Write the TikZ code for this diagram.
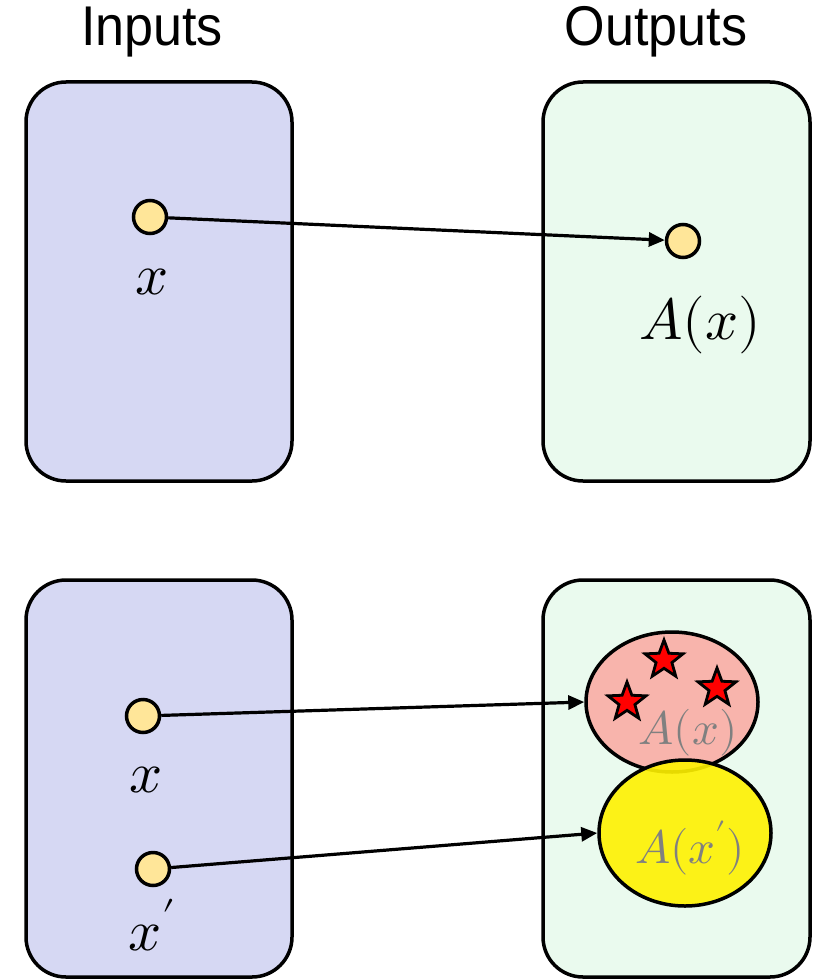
\documentclass[tikz,border=0pt]{standalone}
\usepackage{unicode-math}
\setmainfont{Liberation Sans}
\setmathfont{Latin Modern Math}
\usetikzlibrary{shapes.geometric,arrows.meta}
\definecolor{inbox}{HTML}{D6D8F3}
\definecolor{outbox}{HTML}{EAFAEE}
\definecolor{dotfill}{HTML}{FFE699}
\definecolor{pinkfill}{HTML}{F8B4AC}
\definecolor{labgray}{HTML}{808080}
\tikzset{
  panel/.style={draw=black, line width=3.5pt, rounded corners=40pt},
  inpanel/.style={panel, fill=inbox},
  outpanel/.style={panel, fill=outbox},
  dot/.style={circle, draw=black, line width=3.5pt, fill=dotfill, minimum size=33pt, inner sep=0pt},
  title/.style={font=\fontsize{56}{60}\selectfont, xscale=0.93},
  mlabel/.style={font=\fontsize{58}{60}\selectfont},
  glabel/.style={font=\fontsize{47}{50}\selectfont, text=labgray},
  conn/.style={line width=3.2pt, -{Triangle[length=16pt,width=14pt]}, shorten >=0pt},
  blob/.style={ellipse, draw=black, line width=3.5pt, inner sep=0pt},
  redstar/.style={star, star points=5, star point ratio=2.4, draw=black, line width=2.8pt, fill=red, minimum size=40pt, inner sep=0pt}
}
\begin{document}
\begin{tikzpicture}[x=1pt,y=-1pt]
\useasboundingbox (0,0) rectangle (818,979);
% titles
\node[title] (tin) at (152,32) {Inputs};
\node[title] (tout) at (656,32) {Outputs};
% top panels
\draw[inpanel] (26,82) rectangle (292,481);
\draw[outpanel] (543,82) rectangle (810,481);
% bottom panels
\draw[inpanel] (26,580) rectangle (292,977);
\draw[outpanel] (543,580) rectangle (810,977);
% top row
\node[dot] (x1) at (150,217) {};
\node[mlabel] (lx1) at (152,282) {$x$};
\node[dot] (y1) at (683,241) {};
\node[mlabel] (ly1) at (700,325) {$A(x)$};
\draw[conn] (x1) -- (y1);
% bottom row
\node[blob, fill=pinkfill, minimum width=172pt, minimum height=140pt] (pk) at (672,702) {};
\node[glabel] (lpk) at (688,733) {$A(x)$};
\node[redstar] (s1) at (664,660) {};
\node[redstar] (s2) at (627,702) {};
\node[redstar] (s3) at (717,688) {};
\node[blob, fill=yellow, fill opacity=0.9, minimum width=172pt, minimum height=146pt] (yl) at (685,833) {};
\node[glabel] (lyl) at (690,848) {$A(x')$};
\node[dot] (x2) at (143,716) {};
\node[mlabel] (lx2) at (146,780) {$x$};
\node[dot] (x3) at (153,869) {};
\node[mlabel] (lx3) at (152,925) {$x'$};
\draw[conn] (x2) -- (pk.west);
\draw[conn] (x3) -- (yl.west);
\end{tikzpicture}
\end{document}
